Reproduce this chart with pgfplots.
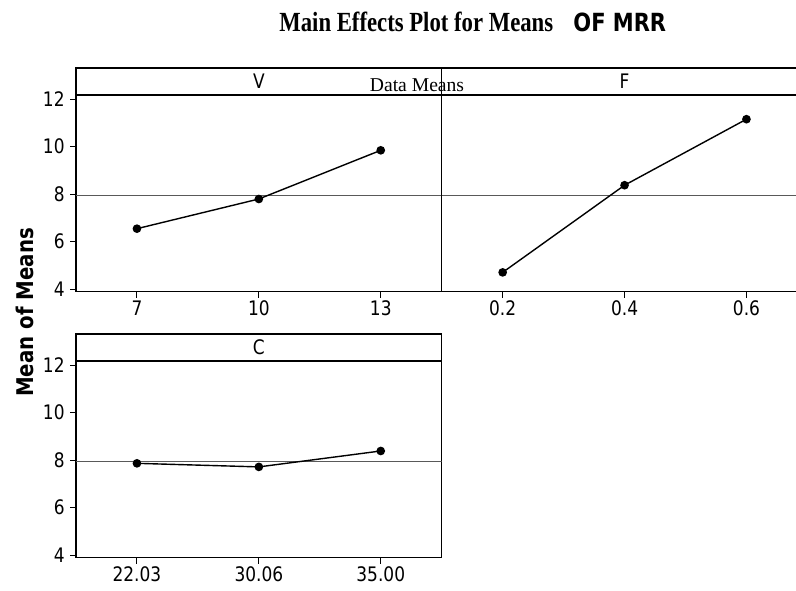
\documentclass[border=0pt]{standalone}
\usepackage{fontspec}
\setmainfont{Liberation Serif}
\setsansfont{DejaVu Sans}
\newfontfamily\titlefont{Liberation Serif}
\newfontfamily\hsans{DejaVu Sans}
\newfontfamily\tsans{DejaVu Sans}[FakeStretch=0.85]
\usepackage{graphicx}
\usepackage{pgfplots}
\pgfplotsset{compat=1.18}

\pgfplotsset{
  mepanel/.style={
    scale only axis, width=182.85pt, height=111.85pt,
    anchor=south west,
    ymin=3.886, ymax=13.305,
    xmin=0.5, xmax=3.5,
    axis line style={line width=0.7pt},
    tick style={black, line width=0.5pt},
    tick align=outside,
    major tick length=3pt,
    xtick pos=bottom, ytick pos=left,
    xtick={1,2,3},
    ytick={4,6,8,10,12},
    /pgf/number format/assume math mode=true,
    xticklabel style={font=\tsans\fontsize{10}{11}\selectfont, inner sep=1.5pt},
    yticklabel style={font=\tsans\fontsize{10}{11}\selectfont, inner sep=2.5pt},
  },
  meanline/.style={no marks, line width=0.6pt, black!65},
  dataline/.style={black, line width=0.7pt, mark=*, mark size=1.8pt, mark options={fill=black}},
}
\newcommand{\header}[1]{%
  \draw[line width=0.7pt] (axis description cs:0,0.8793) -- (axis description cs:1,0.8793);
  \node[font=\tsans\fontsize{10}{11}\selectfont, anchor=center] at (axis description cs:0.5,0.9397) {#1};
}

\begin{document}
\begin{tikzpicture}
\useasboundingbox (0pt,0pt) rectangle (398pt,-295pt);
\clip (0pt,0pt) rectangle (398pt,-295pt);

% V panel
\begin{axis}[mepanel, at={(38pt,-145.85pt)}, xticklabels={7,10,13}]
\addplot[meanline] coordinates {(0.5,7.93) (3.5,7.93)};
\addplot[dataline] coordinates {(1,6.54) (2,7.79) (3,9.84)};
\header{V}
\end{axis}

% F panel
\begin{axis}[mepanel, at={(220.85pt,-145.85pt)}, ytick=\empty, xticklabels={0.2,0.4,0.6}]
\addplot[meanline] coordinates {(0.5,7.93) (3.5,7.93)};
\addplot[dataline] coordinates {(1,4.70) (2,8.37) (3,11.15)};
\header{F}
\end{axis}

% C panel
\begin{axis}[mepanel, at={(38pt,-278.85pt)}, xticklabels={22.03,30.06,35.00}]
\addplot[meanline] coordinates {(0.5,7.94) (3.5,7.94)};
\addplot[dataline] coordinates {(1,7.86) (2,7.71) (3,8.38)};
\header{C}
\end{axis}

% texts
\node[anchor=base west, inner sep=0pt] at (139.5pt,-15.85pt)
  {\scalebox{0.82}[1]{\titlefont\bfseries\fontsize{13.85}{15}\selectfont Main Effects Plot for Means}};
\node[anchor=base west, inner sep=0pt] at (286.5pt,-15.85pt)
  {\scalebox{0.84}[1]{\hsans\bfseries\fontsize{12.5}{14}\selectfont OF MRR}};
\node[anchor=base, inner sep=0pt] at (208.5pt,-45.85pt)
  {\titlefont\fontsize{9.8}{11}\selectfont Data Means};
\node[rotate=90, anchor=center, inner sep=0pt] at (12.25pt,-156.25pt)
  {\scalebox{0.86}[1]{\hsans\bfseries\fontsize{11.5}{13}\selectfont Mean of Means}};
\end{tikzpicture}
\end{document}
